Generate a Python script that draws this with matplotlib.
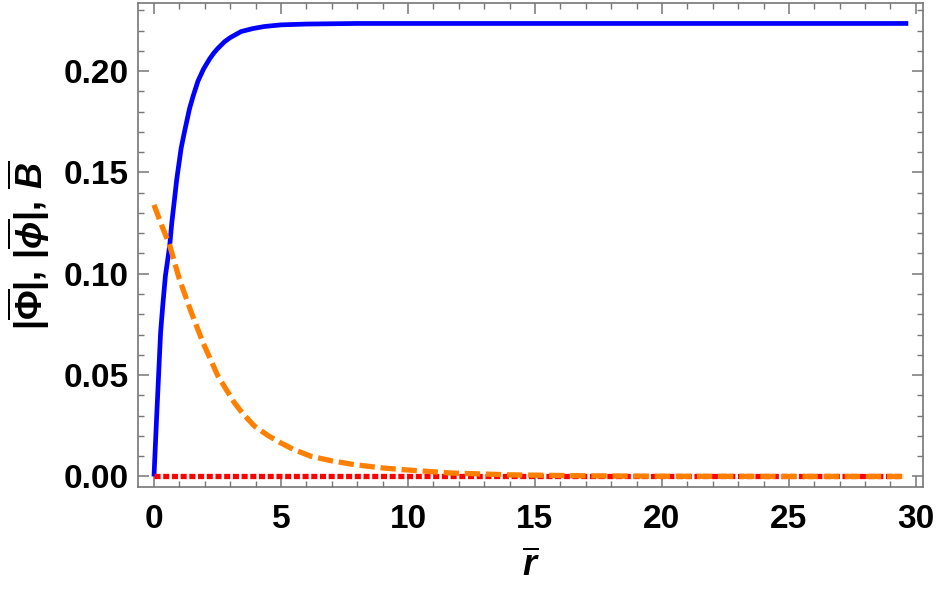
import matplotlib
matplotlib.use("Agg")
from matplotlib import pyplot as plt
from matplotlib.ticker import MultipleLocator

plt.rcParams["font.family"] = ["Liberation Sans", "DejaVu Sans"]
plt.rcParams["font.weight"] = "bold"
plt.rcParams["mathtext.fontset"] = "custom"
plt.rcParams["mathtext.rm"] = "Liberation Sans:bold"
plt.rcParams["mathtext.it"] = "Liberation Sans:bold:italic"
plt.rcParams["mathtext.bf"] = "Liberation Sans:bold"

# |Phi| (blue, solid)
r_phi_big = [0, 0.1, 0.18, 0.26, 0.35, 0.45, 0.53, 0.62, 0.7, 0.81, 0.9, 1.07,
             1.2, 1.4, 1.55, 1.73, 1.95, 2.19, 2.35, 2.5, 2.78, 3.0, 3.43, 3.9,
             4.35, 5, 6, 8, 10, 15, 20, 25, 29.7]
v_phi_big = [0, 0.028, 0.0495, 0.071, 0.085, 0.099, 0.106, 0.114, 0.125, 0.137,
             0.147, 0.162, 0.170, 0.1815, 0.188, 0.195, 0.201, 0.206, 0.2088,
             0.211, 0.2145, 0.2165, 0.2195, 0.221, 0.222, 0.2228, 0.2232,
             0.2235, 0.2235, 0.2235, 0.2235, 0.2235, 0.2235]

# |phi| (orange, dashed)
r_phi_small = [0, 0.3, 0.62, 1.0, 1.47, 1.93, 2.52, 3.17, 3.5, 3.96, 4.5, 5.0,
               5.5, 6.19, 7.0, 7.9, 9.0, 9.86, 11.7, 14, 17, 20, 25, 29.5]
v_phi_small = [0.134, 0.124, 0.1139, 0.0974, 0.0809, 0.066, 0.0495, 0.0363,
               0.031, 0.0248, 0.0201, 0.0165, 0.0133, 0.0099, 0.0077, 0.0058,
               0.0042, 0.0033, 0.0017, 0.0008, 0.0003, 0.0001, 0.0, 0.0]

# B (red, dotted)
r_b = [0, 5, 10, 15, 20, 25, 29.5]
v_b = [0, 0, 0, 0, 0, 0, 0]

fig = plt.figure(figsize=(9.38, 5.96), dpi=100)
ax = fig.add_axes([0.1471, 0.1829, 0.8369, 0.8121])

ax.plot(r_phi_big, v_phi_big, color="#0000ff", lw=3.4, zorder=2,
        solid_capstyle="butt", solid_joinstyle="round")
ax.plot(r_b, v_b, color="#ff0000", lw=3.8, zorder=3,
        dashes=(1.15, 0.5), dash_capstyle="butt")
ax.plot(r_phi_small, v_phi_small, color="#ff8000", lw=3.8, zorder=4,
        dashes=(2.9, 1.1), dash_capstyle="butt")

ax.set_xlim(-0.63, 30.28)
ax.set_ylim(-0.0052, 0.2336)

ax.xaxis.set_major_locator(MultipleLocator(5))
ax.xaxis.set_minor_locator(MultipleLocator(1))
ax.yaxis.set_major_locator(MultipleLocator(0.05))
ax.yaxis.set_minor_locator(MultipleLocator(0.01))
ax.yaxis.set_major_formatter(plt.FuncFormatter(lambda v, p: f"{v:.2f}"))

gray = "#777777"
for s in ax.spines.values():
    s.set_color(gray)
    s.set_linewidth(1.2)
ax.tick_params(which="both", direction="in", top=True, right=True,
               color=gray, labelsize=24, labelcolor="black")
ax.tick_params(which="major", length=8, width=1.1)
ax.tick_params(which="minor", length=4.5, width=1.0)
ax.tick_params(axis="x", pad=12)
ax.tick_params(axis="y", pad=7)
for lab in ax.get_xticklabels() + ax.get_yticklabels():
    lab.set_fontweight("bold")

ax.set_xlabel(r"$\overline{r}$", fontsize=26, labelpad=10)
ax.set_ylabel(r"$|\overline{\Phi}|, \, |\overline{\phi}|, \, \overline{B}$",
              fontsize=26, labelpad=8)

fig.savefig("out.png", dpi=100)
